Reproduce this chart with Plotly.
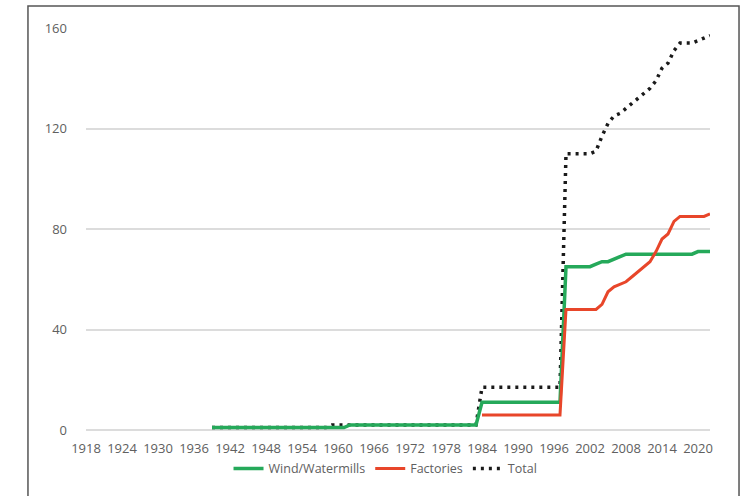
import plotly.graph_objects as go

# ---- data ----
years_wind = list(range(1939, 2023))
wind = ([1] * 23 + [2] * 22 + [11] * 14 + [65] * 5 +
        [66, 67, 67, 68, 69, 70] + [70] * 11 + [71, 71, 71])

years_fact = list(range(1984, 2023))
factories = ([6] * 14 + [48] * 6 +
             [50, 55, 57, 58, 59, 61, 63, 65, 67, 71, 76, 78, 83, 85, 85, 85, 85, 85, 86])

years_total = list(range(1939, 2023))
total = ([1] * 20 + [2, 2, 2] + [2] * 22 + [17] * 14 + [110] * 5 +
         [111, 117, 122, 125, 126, 128, 130, 132, 134, 136,
          139, 144, 146, 151, 154, 154, 154, 155, 156, 157])

x_ticks = list(range(1918, 2021, 6))
y_ticks = [0, 40, 80, 120, 160]

GREEN = "#25a95a"
RED = "#e8462a"
TEXT = "#606060"
FONT = "Open Sans"

fig = go.Figure()
fig.add_trace(go.Scatter(x=years_total, y=total, name="Total", mode="lines",
                         line=dict(color="#1a1a1a", width=3.5, dash="3px,5px"),
                         legendrank=3))
fig.add_trace(go.Scatter(x=years_wind, y=wind, name="Wind/Watermills", mode="lines",
                         line=dict(color=GREEN, width=3.5), legendrank=1))
fig.add_trace(go.Scatter(x=years_fact, y=factories, name="Factories", mode="lines",
                         line=dict(color=RED, width=3), legendrank=2))

fig.update_layout(
    width=756, height=496,
    margin=dict(l=86, r=46, t=28, b=66),
    paper_bgcolor="white", plot_bgcolor="white",
    font=dict(family=FONT, size=13, color=TEXT),
    showlegend=True,
    legend=dict(orientation="h", x=0.48, xanchor="center", y=-0.097, yanchor="middle",
                font=dict(size=12.5, color=TEXT), traceorder="normal",
                bgcolor="rgba(0,0,0,0)"),
    shapes=[dict(type="rect", xref="paper", yref="paper",
                 x0=-0.093, x1=1.0465, y0=-0.2, y1=1.0547,
                 line=dict(color="#555555", width=1.5), fillcolor="rgba(0,0,0,0)",
                 layer="below")],
)
fig.update_xaxes(range=[1918, 2022], tickmode="array", tickvals=x_ticks,
                 ticktext=[str(v) for v in x_ticks], tickangle=0,
                 showgrid=False, zeroline=False, showline=False,
                 ticks="", ticklabelstandoff=9, tickfont=dict(size=13, color=TEXT))
fig.update_yaxes(range=[0, 160], tickmode="array", tickvals=y_ticks,
                 showgrid=True, gridcolor="#dcdcdc", gridwidth=2,
                 zeroline=True, zerolinecolor="#dcdcdc", zerolinewidth=2,
                 showline=False, ticks="", ticklabelstandoff=18,
                 tickfont=dict(size=13, color=TEXT))

fig.write_html("out.html", config={"displayModeBar": False},
               post_script="document.body.style.margin='0';document.body.style.overflow='hidden';")
